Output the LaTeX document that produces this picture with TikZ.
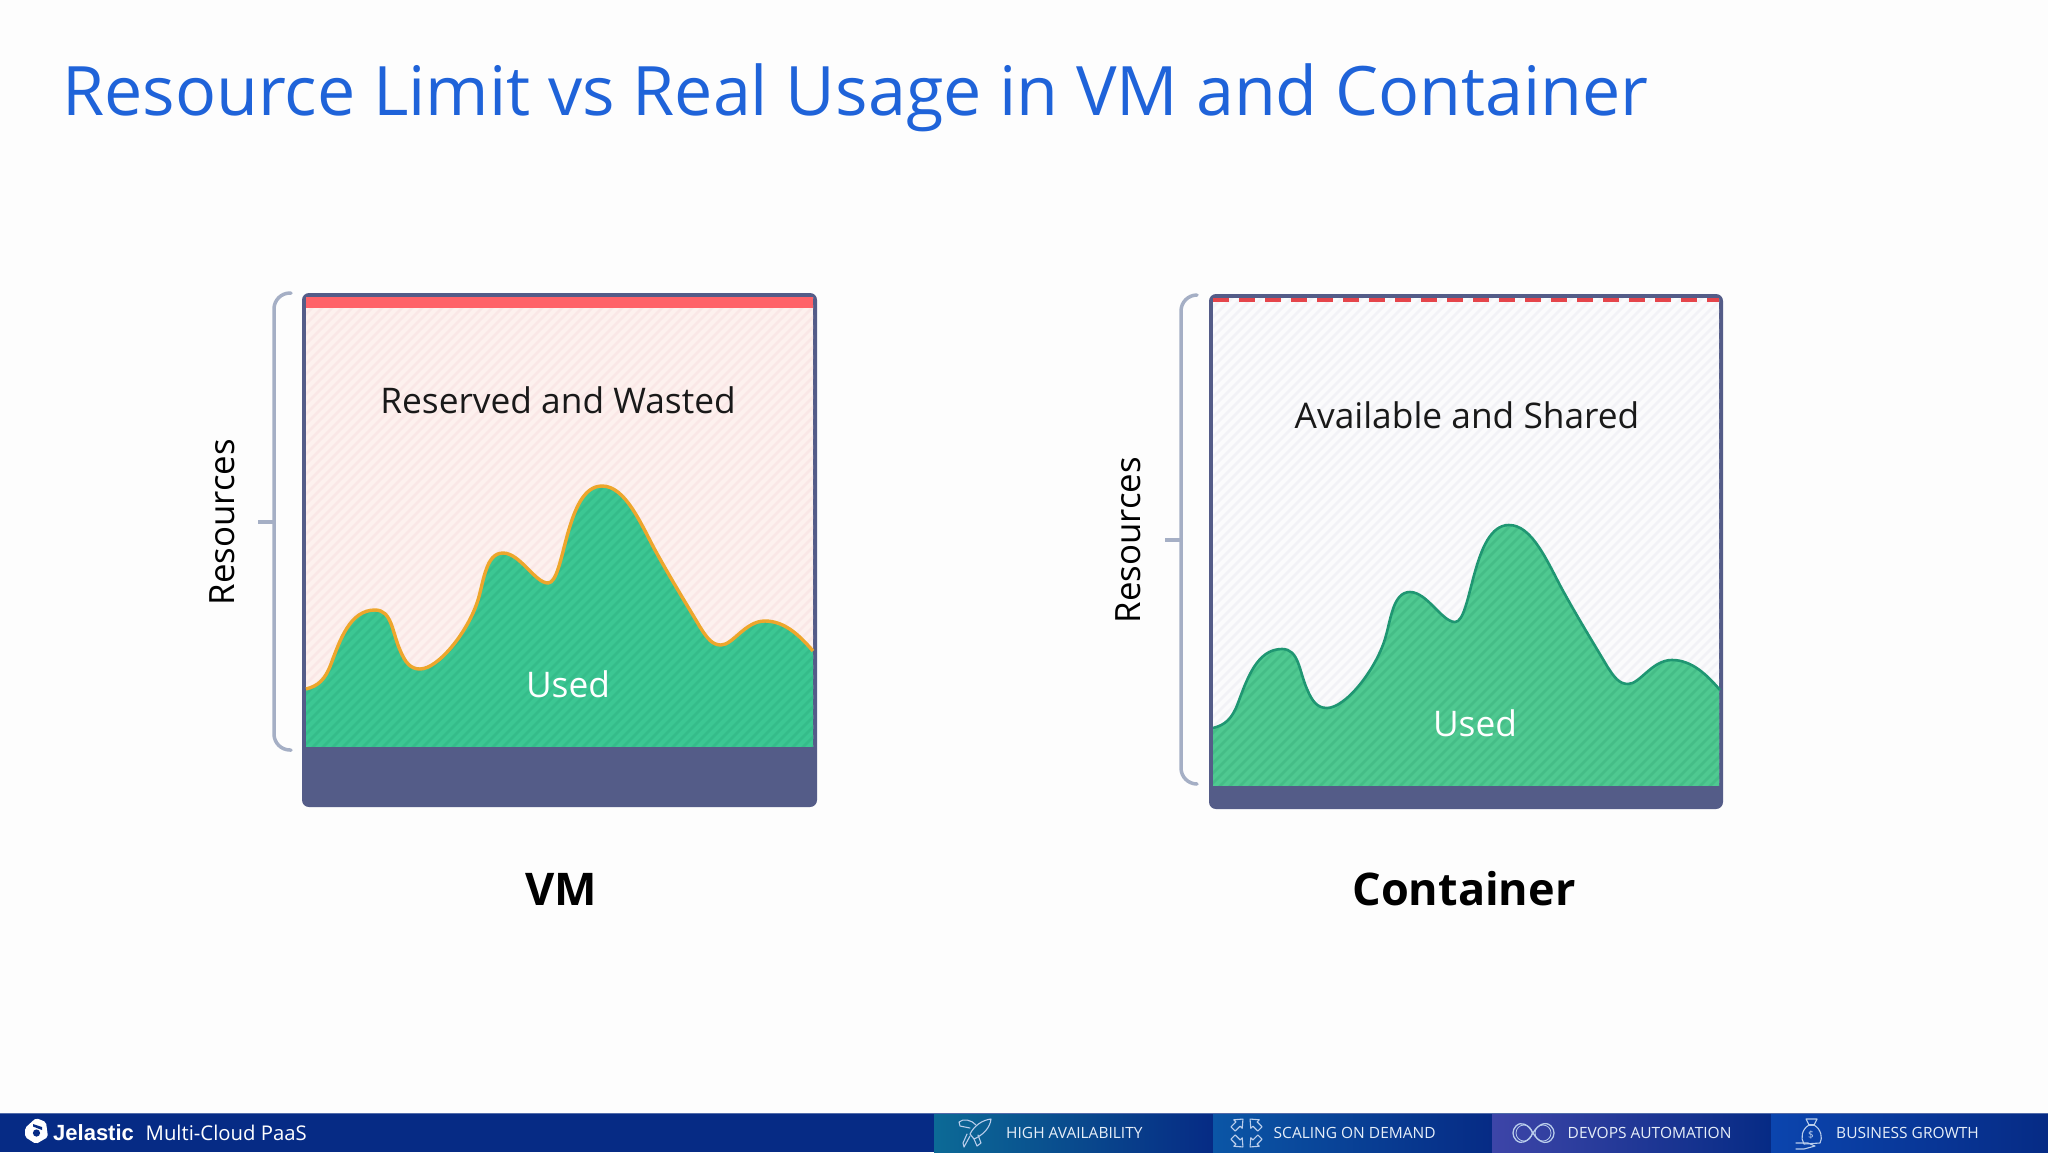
\documentclass[tikz,border=0pt]{standalone}
\usepackage{fontspec}
\setmainfont{Open Sans}
\newfontfamily\logofont{Liberation Sans}
\usetikzlibrary{arrows.meta}
\definecolor{pagebg}{HTML}{FDFDFD}
\definecolor{titleblue}{HTML}{1F63D9}
\definecolor{frameblue}{HTML}{545C88}
\definecolor{bracegrey}{HTML}{A5AFC5}
\definecolor{vmbg}{HTML}{FDF1EE}
\definecolor{vmhatch}{HTML}{FAE7E6}
\definecolor{conbg}{HTML}{FBFBFC}
\definecolor{conhatch}{HTML}{F2F2F6}
\definecolor{vmgreen}{HTML}{3CC793}
\definecolor{vmgreenh}{HTML}{35BC8A}
\definecolor{congreen}{HTML}{4FC991}
\definecolor{congreenh}{HTML}{45BD87}
\definecolor{curveorange}{HTML}{EDA62C}
\definecolor{curvegreen}{HTML}{1F9672}
\definecolor{redband}{HTML}{FF6268}
\definecolor{reddash}{HTML}{E5454B}
\definecolor{barblue}{HTML}{062B85}
\definecolor{bartext}{HTML}{E6EEF8}
\definecolor{iconline}{HTML}{B9CDEB}
\definecolor{segA}{HTML}{0C6A96}
\definecolor{segB}{HTML}{0B56A6}
\definecolor{segC}{HTML}{3D45A8}
\definecolor{segD}{HTML}{0B45AE}
\tikzset{
  usagecurve/.style={insert path={(306,689) .. controls (318,686) and (325,680) .. (331,664)
    .. controls (340,640) and (350,610) .. (375,610)
    .. controls (392,610) and (392,632) .. (400,650)
    .. controls (405,662) and (410,669) .. (420,669)
    .. controls (438,669) and (468,632) .. (478,600)
    .. controls (484,580) and (486,553) .. (503,553)
    .. controls (520,553) and (535,583) .. (548,583)
    .. controls (565,583) and (565,486) .. (602,486)
    .. controls (625,486) and (640,522) .. (655,550)
    .. controls (672,581) and (690,610) .. (700,627)
    .. controls (707,638) and (712,645) .. (721,645)
    .. controls (733,645) and (745,621) .. (765,621)
    .. controls (785,621) and (800,636) .. (813,651)}},
  bracket/.style={draw=bracegrey,line width=3.5pt,rounded corners=16pt,line cap=round},
  tickmark/.style={draw=bracegrey,line width=3.5pt},
  frame/.style={fill=frameblue,rounded corners=7pt},
  restext/.style={font=\fontsize{34.8}{40}\selectfont,text=black,rotate=90,inner sep=0pt},
  arealabel/.style={font=\fontsize{35.3}{40}\selectfont,text=black!90,inner sep=0pt},
  usedlabel/.style={font=\fontsize{35.3}{40}\selectfont,text=white,inner sep=0pt},
  headlabel/.style={font=\fontsize{45}{54}\selectfont\bfseries,text=black,inner sep=0pt},
  bartextstyle/.style={font=\fontsize{15.5}{20}\selectfont,text=bartext,inner sep=0pt,anchor=west},
  iconstroke/.style={draw=iconline,line width=1.1pt,line join=round,line cap=round},
  hatchline/.style={line width=2.6pt},
}
\begin{document}
\begin{tikzpicture}[x=1pt,y=-1pt]
\useasboundingbox (0,0) rectangle (2048,1152);
\fill[pagebg] (0,0) rectangle (2048,1152);

\node[anchor=base west,inner sep=0pt,text=titleblue,font=\fontsize{68.2}{80}\selectfont] (title) at (62,115) {Resource Limit vs Real Usage in VM and Container};

%% VM panel
\fill[frame] (302,293) rectangle (817,807);
\begin{scope}
  \clip (306,297) rectangle (813,747);
  \fill[vmbg] (306,297) rectangle (813,747);
  \foreach \a in {-200,-190,...,820} \draw[hatchline,vmhatch] (\a,760) -- ++(480,-480);
  \fill[redband] (306,297) rectangle (813,308);
\end{scope}
\begin{scope}
  \clip (306,297) rectangle (813,750);
  \clip[usagecurve] -- (813,750) -- (306,750) -- cycle;
  \fill[vmgreen] (306,297) rectangle (813,750);
  \foreach \a in {-200,-190,...,820} \draw[hatchline,vmgreenh] (\a,760) -- ++(480,-480);
\end{scope}
\fill[frameblue] (304,747) rectangle (815,770);
\draw[curveorange,line width=3.4pt,usagecurve];
\draw[bracket] (291,293) -| (274,750) -- (291,750);
\coordinate (vmtickA) at (258,522);
\coordinate (vmtickB) at (274,522);
\draw[tickmark] (vmtickA) -- (vmtickB);
\node[restext] (vmres) at (222,522) {Resources};
\node[arealabel] (vmwaste) at (558,400) {Reserved and Wasted};
\node[usedlabel] (vmused) at (568,684) {Used};
\node[headlabel] (vmhead) at (561,889) {VM};

%% Container panel
\fill[frame] (1209,294) rectangle (1723,809);
\begin{scope}
  \clip (1213,298) rectangle (1719,786);
  \fill[conbg] (1213,298) rectangle (1719,786);
  \foreach \a in {700,710,...,1730} \draw[hatchline,conhatch] (\a,800) -- ++(520,-520);
\end{scope}
\begin{scope}
  \clip (1213,298) rectangle (1719,789);
  \begin{scope}[shift={(907,39)}]
    \clip[usagecurve] -- (813,760) -- (306,760) -- cycle;
    \fill[congreen] (306,297) rectangle (813,760);
    \foreach \a in {-200,-190,...,820} \draw[hatchline,congreenh] (\a,760) -- ++(480,-480);
  \end{scope}
\end{scope}
\fill[frameblue] (1211,786) rectangle (1721,798);
\begin{scope}[shift={(907,39)}]
  \draw[curvegreen,line width=2.6pt,usagecurve];
\end{scope}
\draw[reddash,line width=4pt,dash pattern=on 16pt off 10pt] (1213,299.5) -- (1719,299.5);
\draw[bracket] (1197,295) -| (1181,784) -- (1197,784);
\coordinate (contickA) at (1165,540);
\coordinate (contickB) at (1181,540);
\draw[tickmark] (contickA) -- (contickB);
\node[restext] (conres) at (1128,540) {Resources};
\node[arealabel] (conavail) at (1467,415) {Available and Shared};
\node[usedlabel] (conused) at (1475,723) {Used};
\node[headlabel] (conhead) at (1464,889) {Container};

%% Footer bar
\fill[barblue] (0,1113) rectangle (2048,1152);
\shade[left color=segA,right color=barblue] (934,1113) rectangle (1213,1152);
\shade[left color=segB,right color=barblue] (1213,1113) rectangle (1492,1152);
\shade[left color=segC,right color=barblue] (1492,1113) rectangle (1771,1152);
\shade[left color=segD,right color=barblue] (1771,1113) rectangle (2048,1152);
\fill[barblue!70!white] (0,1113) rectangle (2048,1114);

% logo
\fill[white,rounded corners=2pt] (36,1118) -- (46,1122) -- (48,1137) -- (36,1144) -- (25,1137) -- (25,1128) -- cycle;
\fill[barblue] (36.5,1133) circle (3.6pt);
\fill[barblue] (33,1124) -- (42,1127) -- (42,1130) -- (33,1126.5) -- cycle;
\node[anchor=west,inner sep=0pt,text=white,font=\fontsize{22}{26}\logofont\bfseries] (jel) at (53,1132.5) {Jelastic};
\node[anchor=west,inner sep=0pt,text=white,font=\fontsize{20.3}{24}\selectfont] (mc) at (145.5,1133) {Multi-Cloud PaaS};

\node[bartextstyle] (t1) at (1006,1133) {HIGH AVAILABILITY};
\node[bartextstyle] (t2) at (1273.5,1133) {SCALING ON DEMAND};
\node[bartextstyle] (t3) at (1567.5,1133) {DEVOPS AUTOMATION};
\node[bartextstyle] (t4) at (1836,1133) {BUSINESS GROWTH};

% rocket icon
\draw[iconstroke] (991,1119) .. controls (982,1120) and (974,1126) .. (970,1134) -- (974,1139) .. controls (983,1135) and (990,1128) .. (991,1119) -- cycle;
\draw[iconstroke] (970,1128) -- (960,1126) -- (959,1122) .. controls (963,1118) and (972,1120) .. (976,1125);
\draw[iconstroke] (978,1135) -- (981,1143) -- (977,1146) -- (974,1139);
\draw[iconstroke] (970,1136) -- (964,1147) -- (963,1143) -- (967,1134);
% scaling arrows icon
\foreach \sx/\sy/\ang in {1238/1124/-45,1255/1124/45,1238/1142/-135,1255/1142/135}{
  \begin{scope}[shift={(\sx,\sy)},rotate=\ang]
    \draw[iconstroke] (-3,7) -- (-3,0) -- (-6,0) -- (0,-7) -- (6,0) -- (3,0) -- (3,7) -- cycle;
  \end{scope}}
% infinity icon
\draw[iconstroke,line width=1.3pt] (1533,1133) .. controls (1528,1124) and (1521,1121) .. (1516,1126) .. controls (1512,1130) and (1512,1136) .. (1516,1140) .. controls (1521,1145) and (1528,1142) .. (1533,1133) .. controls (1538,1124) and (1546,1121) .. (1551,1126) .. controls (1555,1130) and (1555,1136) .. (1551,1140) .. controls (1546,1145) and (1538,1142) .. (1533,1133) -- cycle;
\draw[iconstroke,line width=.8pt] (1524,1133) circle (8pt) (1543,1133) circle (8pt);
% money bag icon
\draw[iconstroke] (1806,1119) -- (1817,1119) -- (1814,1125) .. controls (1821,1129) and (1823,1138) .. (1820,1143) -- (1804,1144) .. controls (1800,1138) and (1802,1129) .. (1809,1125) -- cycle;
\draw[iconstroke] (1809,1125) -- (1814,1125);
\draw[iconstroke] (1796,1143) -- (1808,1143) -- (1815,1146) -- (1804,1149) -- (1796,1149);
\node[inner sep=0pt,text=iconline,font=\fontsize{10}{12}\selectfont] (dollar) at (1811,1135) {\$};
\end{tikzpicture}
\end{document}
